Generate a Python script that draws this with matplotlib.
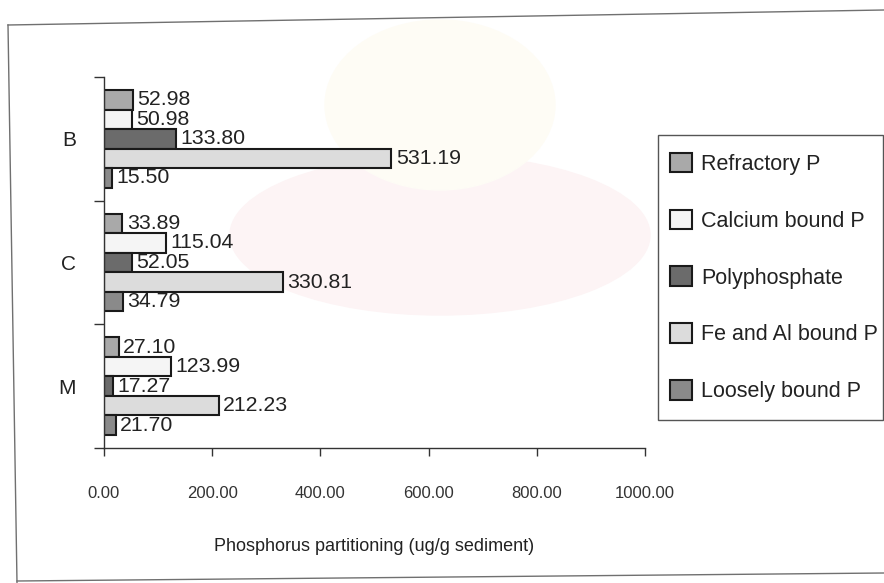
import matplotlib
matplotlib.use("Agg")
import matplotlib.pyplot as plt
from matplotlib.lines import Line2D
from matplotlib.patches import Ellipse, Rectangle
import numpy as np

plt.rcParams['font.family'] = ['Liberation Sans', 'DejaVu Sans']

# phosphorus fractions per sampling site (ug/g sediment)
sites = ['B', 'C', 'M']
fractions = ['Refractory P', 'Calcium bound P', 'Polyphosphate',
             'Fe and Al bound P', 'Loosely bound P']
refractory = [52.98, 33.89, 27.10]
calcium = [50.98, 115.04, 123.99]
polyphosphate = [133.80, 52.05, 17.27]
fe_al = [531.19, 330.81, 212.23]
loosely = [15.50, 34.79, 21.70]
x_ticks = [0, 200, 400, 600, 800, 1000]

series = [refractory, calcium, polyphosphate, fe_al, loosely]
colours = ['#a9a9a9', '#f5f5f5', '#6b6b6b', '#dcdcdc', '#8a8a8a']

W, H = 884, 583
fig = plt.figure(figsize=(W / 100, H / 100), dpi=100)

def px(x, y):
    return x / W, 1 - y / H

# faint stamp behind the chart
fig.add_artist(Ellipse(px(440, 235), 420 / W, 160 / H, color='#fdf4f5',
                       zorder=0, transform=fig.transFigure))
fig.add_artist(Ellipse(px(440, 105), 230 / W, 170 / H, color='#fefcf5',
                       zorder=0, transform=fig.transFigure))

# border of the chart area
for (x0, y0), (x1, y1) in [((8, 25), (884, 10)), ((8, 25), (17, 583)),
                           ((17, 581), (884, 573))]:
    a, b = px(x0, y0), px(x1, y1)
    fig.add_artist(Line2D([a[0], b[0]], [a[1], b[1]], color='#707070',
                          lw=1.0, transform=fig.transFigure))

left, right, top, bottom = px(104, 0)[0], px(645, 0)[0], px(0, 77)[1], px(0, 448)[1]
ax = fig.add_axes([left, bottom, right - left, top - bottom])
ax.patch.set_alpha(0)

h = 0.158
ypos = np.arange(len(sites))
handles = []
for j, (vals, c) in enumerate(zip(series, colours)):
    y = ypos + (j - 2) * h
    bars = ax.barh(y, vals, height=h, color=c, edgecolor='#1a1a1a',
                   linewidth=1.5, label=fractions[j], zorder=2)
    handles.append(bars)
    for yy, v in zip(y, vals):
        ax.text(v + 8, yy, f'{v:.2f}', va='center', ha='left',
                fontsize=15.3, color='#222222', zorder=3)

ax.set_xlim(0, 1000)
ax.set_ylim(2.5, -0.5)
ax.set_xticks(x_ticks)
ax.set_xticklabels([f'{t:.2f}' for t in x_ticks])
ax.set_yticks([-0.5, 0.5, 1.5, 2.5])
ax.set_yticklabels([])
ax.set_yticks(ypos, minor=True)
ax.set_yticklabels(sites, minor=True)
ax.tick_params(axis='y', which='minor', length=0, pad=20, labelsize=15,
               labelcolor='#222222')
ax.tick_params(axis='y', which='major', length=7, width=1, color='#333333')
ax.tick_params(axis='x', length=6, width=1, color='#333333', pad=21,
               labelsize=12, labelcolor='#333333')
for s in ['top', 'right']:
    ax.spines[s].set_visible(False)
for s in ['left', 'bottom']:
    ax.spines[s].set_color('#333333')
    ax.spines[s].set_linewidth(1.0)
ax.set_xlabel('Phosphorus partitioning (ug/g sediment)', fontsize=13,
              color='#222222', labelpad=27)

# legend box drawn separately so it can run to the right border
lx0, ly0 = px(658, 420)
lx1, ly1 = px(883, 135)
fig.add_artist(Rectangle((lx0, ly0), lx1 - lx0, ly1 - ly0, fill=False,
                         edgecolor='#555555', lw=1.0,
                         transform=fig.transFigure))
leg = fig.legend(handles, fractions, loc='center left',
                 bbox_to_anchor=(lx0, ly0, lx1 - lx0, ly1 - ly0),
                 bbox_transform=fig.transFigure, borderaxespad=0,
                 fontsize=15.5, frameon=False, borderpad=0.58,
                 labelspacing=1.62, handlelength=1.0, handleheight=1.0,
                 handletextpad=0.42)
for t in leg.get_texts():
    t.set_color('#222222')

fig.savefig('out.png', dpi=100)
